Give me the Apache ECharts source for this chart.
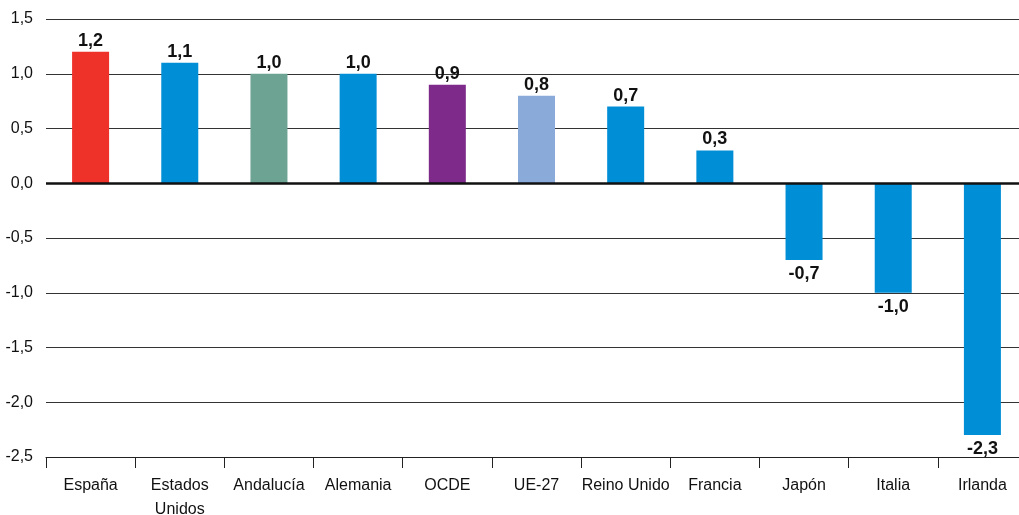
<!DOCTYPE html>
<html><head><meta charset="utf-8">
<script src="https://cdn.jsdelivr.net/npm/echarts@6/dist/echarts.min.js"></script>
<style>html,body{margin:0;padding:0;background:#fff}#c{width:1019px;height:515px}</style>
</head><body><div id="c"></div>
<script>
const categories = ['España','Estados\nUnidos','Andalucía','Alemania','OCDE','UE-27','Reino Unido','Francia','Japón','Italia','Irlanda'];
const values = [1.2, 1.1, 1.0, 1.0, 0.9, 0.8, 0.7, 0.3, -0.7, -1.0, -2.3];
const barColors = ['#EE3129','#008ED6','#6DA393','#008ED6','#7D2A8A','#8AAAD9','#008ED6','#008ED6','#008ED6','#008ED6','#008ED6'];
const yTicks = [-2.5,-2.0,-1.5,-1.0,-0.5,0.0,0.5,1.0,1.5];

const FONT = '"Liberation Sans Narrow","Arial Narrow","Liberation Sans",sans-serif';
const fmt = v => v.toFixed(1).replace('.', ',');

const chart = echarts.init(document.getElementById('c'), null, {renderer:'canvas'});
chart.setOption({
  animation:false,
  grid:{left:46, right:-8, top:19, bottom:58, containLabel:false, outerBoundsMode:'none'},
  xAxis:{
    type:'category', data:categories, position:'bottom',
    axisLine:{onZero:false, lineStyle:{color:'#222', width:1}},
    axisTick:{show:true, length:11, alignWithLabel:false, lineStyle:{color:'#222'}},
    axisLabel:{color:'#111', fontFamily:FONT, fontSize:16, margin:17, lineHeight:24, interval:0}
  },
  yAxis:{
    type:'value', min:yTicks[0], max:yTicks[yTicks.length-1], interval:0.5,
    axisLine:{show:false}, axisTick:{show:false},
    axisLabel:{color:'#111', fontFamily:FONT, fontSize:16, margin:13, formatter:v=>fmt(v)},
    splitLine:{lineStyle:{color:'#333', width:1.2}}
  },
  series:[{
    type:'bar', barWidth:37,
    data: values.map((v,i)=>({
      value:v,
      itemStyle:{color:barColors[i]},
      label:{show:true, position: v>=0?'top':'bottom', distance: v>=0?2:5,
        formatter:fmt(v), fontFamily:FONT, fontWeight:'bold', fontSize:18, color:'#111'}
    })),
    markLine:{silent:true, symbol:'none', label:{show:false},
      lineStyle:{color:'#111', width:2.5, type:'solid'}, data:[{yAxis:0}]}
  }]
});
</script></body></html>
